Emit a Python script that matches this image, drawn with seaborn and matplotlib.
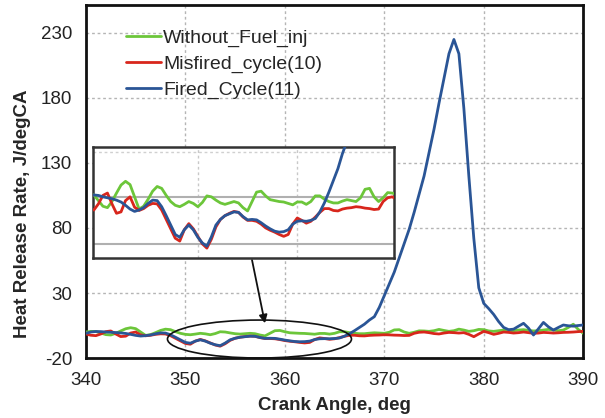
import numpy as np
import pandas as pd
import matplotlib
matplotlib.use("Agg")
import matplotlib.pyplot as plt
from matplotlib.patches import Ellipse
import seaborn as sns

# Crank angle (deg), 0.5 deg steps from 340 to 390
crank_angle = np.arange(340.0, 390.01, 0.5)

without_fuel_inj = [
    0.0, 0.5, 0.4, -0.8, -2.0, -2.3, -1.0, 0.8, 2.5, 3.3,
    2.6, 0.0, -2.6, -2.0, -0.5, 1.2, 2.2, 1.8, 0.3, -1.0,
    -1.8, -2.1, -1.6, -1.0, -1.4, -2.1, -1.2, 0.2, 0.0, -0.7,
    -1.3, -1.6, -1.3, -1.0, -1.3, -2.3, -3.0, -1.0, 1.0, 1.2,
    0.2, -0.6, -0.8, -1.0, -1.1, -1.4, -1.7, -1.1, -1.1, -1.6,
    -1.0, 0.2, 0.2, -0.5, -1.0, -1.3, -1.3, -0.9, -0.6, -0.8,
    -1.0, -0.2, 1.6, 1.8, 0.0, -1.0, -0.2, 0.9, 0.8, 0.5,
    1.0, 2.0, 1.2, 0.5, 1.0, 2.2, 1.5, 0.5, 1.0, 2.0,
    1.8, 0.8, 0.5, 1.0, 1.5, 1.2, 1.0, 1.5, 1.8, 1.2,
    0.8, 1.0, 1.5, 2.0, 1.5, 1.0, 1.5, 3.5, 6.0, 2.0,
    -1.0,
]

misfired_cycle = [
    -1.5, -2.5, -2.8, -1.5, 0.3, 0.8, -1.5, -3.5, -3.2, -0.8,
    0.0, -2.2, -2.9, -2.5, -1.8, -1.4, -1.5, -2.8, -4.8, -6.8,
    -8.8, -9.4, -7.0, -5.7, -6.8, -8.4, -10.0, -10.9, -9.0, -6.4,
    -4.8, -4.0, -3.5, -3.1, -3.3, -4.3, -5.0, -5.0, -5.2, -5.8,
    -6.6, -7.1, -7.5, -8.0, -8.4, -8.0, -5.8, -4.5, -5.0, -5.6,
    -5.2, -4.3, -3.3, -2.5, -2.5, -2.9, -3.0, -2.6, -2.4, -2.3,
    -2.1, -2.2, -2.4, -2.5, -2.7, -2.6, -1.0, -0.2, 0.0, -0.5,
    -1.2, -1.5, -0.8, -0.3, -0.5, -0.8, -0.5, -1.8, -3.6, -1.5,
    0.5, -0.5, -1.8, -1.0, 0.0, -0.3, -0.8, -0.5, 0.0, -0.5,
    -1.0, -0.8, -0.3, -0.5, -0.8, -0.6, -0.3, -0.2, 0.0, 0.3,
    0.5,
]

fired_cycle = [
    -1.0, 0.0, 0.4, 0.3, 0.0, -0.2, -0.4, -0.7, -1.1, -1.8,
    -2.6, -3.1, -2.8, -2.3, -1.4, -0.7, -0.8, -2.1, -4.0, -6.0,
    -8.0, -8.6, -7.0, -6.0, -7.0, -8.6, -9.8, -10.5, -8.5, -6.0,
    -4.8, -4.0, -3.6, -3.2, -3.3, -4.2, -4.9, -4.8, -4.9, -5.5,
    -6.2, -6.8, -7.3, -7.5, -7.4, -7.0, -5.8, -5.2, -5.1, -5.2,
    -5.0, -4.6, -3.2, -1.3, 1.0, 3.5, 6.0, 9.2, 11.8, 19.0,
    28.0, 37.0, 46.0, 57.0, 68.0, 79.0, 92.0, 106.0, 120.0, 138.0,
    156.0, 176.0, 195.0, 214.0, 225.0, 214.0, 172.0, 120.0, 72.0, 34.0,
    22.0, 18.0, 13.5, 8.0, 3.5, 1.8, 2.2, 4.5, 6.7, 3.0,
    -2.3, 2.5, 7.4, 4.0, 1.5, 3.5, 5.4, 4.8, 4.5, 5.0,
    5.4,
]

series_names = ["Without_Fuel_inj", "Misfired_cycle(10)", "Fired_Cycle(11)"]
series_values = [without_fuel_inj, misfired_cycle, fired_cycle]
series_colors = ["#6cc63a", "#d8261c", "#2a5596"]

x_ticks = [340, 350, 360, 370, 380, 390]
y_ticks = [-20, 30, 80, 130, 180, 230]

sns.set_style("white")
plt.rcParams["font.family"] = ["Liberation Sans", "DejaVu Sans"]
plt.rcParams["axes.unicode_minus"] = False

fig = plt.figure(figsize=(6.05, 4.18), dpi=100)
ax = fig.add_axes([0.142, 0.1435, 0.822, 0.8445])

for name, vals, col in zip(series_names, series_values, series_colors):
    sns.lineplot(x=crank_angle, y=vals, ax=ax, color=col, linewidth=2.0,
                 label=name, zorder=3)

ax.set_xlim(340, 390)
ax.set_ylim(-20, 251.5)
ax.set_xticks(x_ticks)
ax.set_yticks(y_ticks)
ax.grid(True, color="#b5b5b5", linestyle=(0, (2, 2)), linewidth=1.0)
ax.tick_params(axis="both", labelsize=13.5, colors="#222222")
ax.tick_params(axis="y", length=6, color="#b5b5b5", direction="out", pad=4)
ax.tick_params(axis="x", length=0, pad=10)
for s in ax.spines.values():
    s.set_color("#111111")
    s.set_linewidth(2.0)

ax.set_xlabel("Crank Angle, deg", fontsize=13.5, fontweight="bold", labelpad=6)
ax.set_ylabel("Heat Release Rate, J/degCA", fontsize=13.5, fontweight="bold")
ax.yaxis.set_label_coords(-0.11, 0.41)

leg = ax.legend(loc="upper left", bbox_to_anchor=(0.054, 0.969), frameon=False,
                fontsize=14, handlelength=1.8, handletextpad=0.1,
                labelspacing=0.42, borderaxespad=0.3)
for line in leg.get_lines():
    line.set_linewidth(2.0)

# highlighted region around TDC
ell = Ellipse((357.45, -5.4), 18.5, 29.2, fill=False, edgecolor="#111111",
              linewidth=1.2, zorder=4, clip_on=False)
ax.add_patch(ell)
ax.annotate("", xy=(358.0, 6.7), xytext=(356.7, 55.4),
            arrowprops=dict(arrowstyle="-|>", color="#111111", lw=1.3,
                            mutation_scale=12, shrinkA=0, shrinkB=0),
            zorder=5)

# magnified view
axin = fig.add_axes([0.1537, 0.3828, 0.4975, 0.2656])
axin.set_facecolor("white")
for name, vals, col in zip(series_names, series_values, series_colors):
    sns.lineplot(x=crank_angle, y=vals, ax=axin, color=col, linewidth=2.0,
                 legend=False, zorder=3)
axin.set_xlim(340.9, 374.2)
axin.set_ylim(-13.0, 10.6)
axin.set_xticks([352.55, 363.5])
axin.set_yticks([-10, 0])
axin.grid(False)
for xv in [352.55, 363.5]:
    axin.axvline(xv, color="#c8c8c8", linestyle=(0, (2, 2)), linewidth=1.0,
                 zorder=1)
axin.axhline(9.6, color="#d0d0d0", linestyle=(0, (2, 2)), linewidth=1.0, zorder=1)
for yv in [-10, 0]:
    axin.axhline(yv, color="#b0b0b0", linewidth=1.5, zorder=1)
axin.tick_params(length=0, labelbottom=False, labelleft=False)
axin.set_xlabel("")
axin.set_ylabel("")
for s in axin.spines.values():
    s.set_color("#333333")
    s.set_linewidth(1.8)

fig.savefig("out.png", dpi=100)
